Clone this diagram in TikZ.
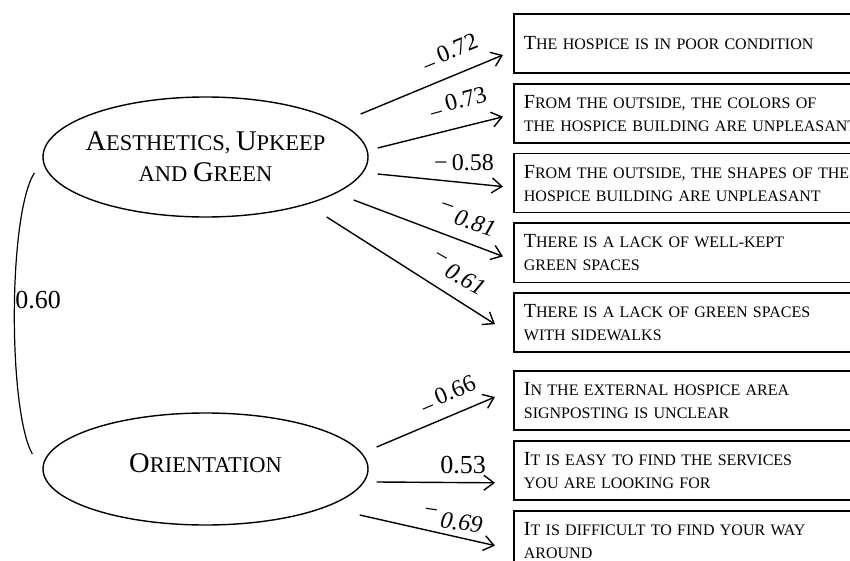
\documentclass[tikz,border=0pt]{standalone}
\usepackage{fontspec}
\setmainfont{Liberation Serif}
\usetikzlibrary{shapes.geometric, arrows.meta, positioning}

% fake small caps: full-size capitals
\newcommand{\bigc}[1]{{\fontsize{20}{23}\selectfont #1}}
\newcommand{\ellc}[1]{{\fontsize{28.5}{31}\selectfont #1}}
% minus signs of the loadings
\newcommand{\negdn}{\raisebox{-0.55ex}{−}\,}
\newcommand{\negup}{\raisebox{0.75ex}{−}\,}

\begin{document}
\begin{tikzpicture}[x=1pt, y=-1pt,
    latent/.style={draw, ellipse, line width=1.4pt, inner sep=0pt, minimum width=325pt, align=center, font=\fontsize{22.5}{31}\selectfont},
    itembox/.style={draw, rectangle, line width=1.8pt, minimum height=59pt, text width=345pt, inner xsep=10pt, align=left, anchor=west, font=\fontsize{16}{23}\selectfont},
    loadlbl/.style={inner sep=1pt, font=\fontsize{24}{24}\selectfont},
    arr/.style={line width=1.4pt, -{Straight Barb[length=10pt, width=15pt, line width=1.4pt]}}]

    \clip (0,0) rectangle (850,561);

    % Latent factors
    \node[latent, minimum height=120pt] (aes) at (205.5,157) {\makebox[200pt]{\ellc{A}ESTHETICS, \ellc{U}PKEEP}\\\makebox[200pt]{AND \ellc{G}REEN}};
    \node[latent, minimum height=112pt] (ori) at (205.5,469) {\raisebox{12pt}{\ellc{O}RIENTATION}};

    % Items
    \node[itembox] (b1) at (513,43.5) {\bigc{T}HE HOSPICE IS IN POOR CONDITION};
    \node[itembox, below=9pt of b1] (b2) {\bigc{F}ROM THE OUTSIDE, THE COLORS OF\\THE HOSPICE BUILDING ARE UNPLEASANT};
    \node[itembox, below=9pt of b2] (b3) {\bigc{F}ROM THE OUTSIDE, THE SHAPES OF THE\\HOSPICE BUILDING ARE UNPLEASANT};
    \node[itembox, below=9pt of b3] (b4) {\bigc{T}HERE IS A LACK OF WELL-KEPT\\GREEN SPACES};
    \node[itembox, below=9pt of b4] (b5) {\bigc{T}HERE IS A LACK OF GREEN SPACES\\WITH SIDEWALKS};
    \node[itembox] (b6) at (513,400.5) {\bigc{I}N THE EXTERNAL HOSPICE AREA\\SIGNPOSTING IS UNCLEAR};
    \node[itembox, below=9pt of b6] (b7) {\bigc{I}T IS EASY TO FIND THE SERVICES\\YOU ARE LOOKING FOR};
    \node[itembox, below=9pt of b7] (b8) {\bigc{I}T IS DIFFICULT TO FIND YOUR WAY\\AROUND};

    % Loadings
    \draw[arr] ([shift={(-8,-43)}]aes.east) -- ([shift={(-10,11.5)}]b1.west);
    \draw[arr] ([shift={(9,-9)}]aes.east) -- ([shift={(-10,3.5)}]b2.west);
    \draw[arr] ([shift={(9,17)}]aes.east) -- ([shift={(-10,3.5)}]b3.west);
    \draw[arr] ([shift={(-15,43)}]aes.east) -- ([shift={(-10,3.5)}]b4.west);
    \draw[arr] ([shift={(-42,60)}]aes.east) -- ([shift={(-18,1.5)}]b5.west);
    \draw[arr] ([shift={(8,-22)}]ori.east) -- ([shift={(-18,-3.5)}]b6.west);
    \draw[arr] ([shift={(8,13)}]ori.east) -- ([shift={(-18,12.5)}]b7.west);
    \draw[arr] ([shift={(-9,46)}]ori.east) -- ([shift={(-18,5.5)}]b8.west);

    \node[loadlbl, rotate=22] (l1) at (450,54) {\negdn0.72};
    \node[loadlbl, rotate=15] (l2) at (458,104) {\negdn0.73};
    \node[loadlbl] (l3) at (464,163) {−\,0.58};
    \node[loadlbl, rotate=-19] (l4) at (467,220) {\negup\textit{0.81}};
    \node[loadlbl, rotate=-30] (l5) at (458,274) {\negup\textit{0.61}};
    \node[loadlbl, rotate=23] (l6) at (448,396) {\negdn0.66};
    \node[loadlbl, font=\fontsize{26}{26}\selectfont] (l7) at (463,465) {0.53};
    \node[loadlbl, rotate=-8] (l8) at (453,521) {\negup\textit{0.69}};

    % Correlation
    \draw[line width=1.2pt] ([shift={(-8,16)}]aes.west) .. controls (8,215) and (8,410) .. ([shift={(-10,-15)}]ori.west);
    \node[loadlbl, font=\fontsize{26}{26}\selectfont] (r) at (38,300) {0.60};
\end{tikzpicture}
\end{document}
